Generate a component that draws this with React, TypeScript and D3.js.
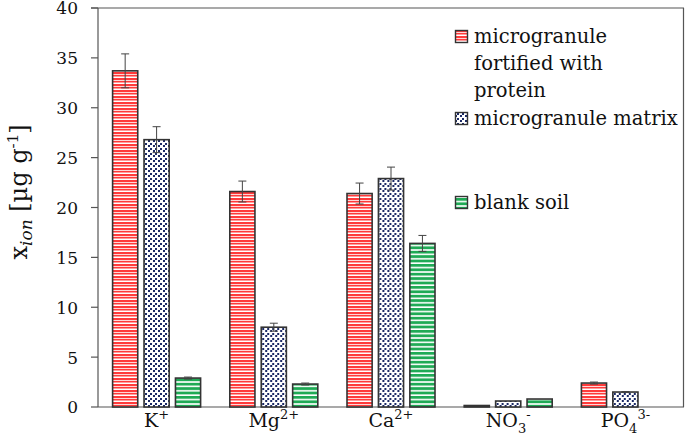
import React from "react";
import * as d3 from "d3";

const categories = ["K", "Mg", "Ca", "NO3", "PO4"];
const series = ["microgranule fortified with protein", "microgranule matrix", "blank soil"];
const protein = [33.7, 21.6, 21.4, 0.15, 2.4];
const proteinErr = [1.7, 1.05, 1.05, 0, 0.1];
const matrix = [26.8, 8.0, 22.9, 0.6, 1.5];
const matrixErr = [1.3, 0.4, 1.15, 0, 0.05];
const blank = [2.9, 2.3, 16.4, 0.8, 0];
const blankErr = [0.1, 0.1, 0.8, 0, 0];
const yTicks = [0, 5, 10, 15, 20, 25, 30, 35, 40];

const FONT = "DejaVu Serif";
const W = 685, H = 436;

export default function App() {
  const x0 = d3.scaleBand<string>().domain(categories).range([98, 684]);
  const x1 = d3.scaleBand<string>().domain(series).range([14.6, 102.6]).paddingInner(0.2);
  const y = d3.scaleLinear().domain([0, 40]).range([407, 8]);
  const fills = ["url(#pRed)", "url(#pBlue)", "url(#pGreen)"];
  const vals = [protein, matrix, blank];
  const errs = [proteinErr, matrixErr, blankErr];

  const labelFor = (c: string) => {
    switch (c) {
      case "K": return (<>K<tspan fontSize="13" dy="-8">+</tspan></>);
      case "Mg": return (<>Mg<tspan fontSize="13" dy="-8">2+</tspan></>);
      case "Ca": return (<>Ca<tspan fontSize="13" dy="-8">2+</tspan></>);
      case "NO3": return (<>NO<tspan fontSize="13" dy="6">3</tspan><tspan fontSize="13" dy="-14">-</tspan></>);
      default: return (<>PO<tspan fontSize="13" dy="6">4</tspan><tspan fontSize="13" dy="-14">3-</tspan></>);
    }
  };

  return (
    <svg width={W} height={H} style={{ position: "absolute", left: 0, top: 0, background: "#fff" }} fontFamily={FONT}>
      <defs>
        <pattern id="pRed" patternUnits="userSpaceOnUse" width="8" height="6">
          <rect width="8" height="6" fill="#ff3b3b" />
          <rect y="2" width="8" height="1" fill="#ffd6d6" />
          <rect y="4" width="8" height="1" fill="#ff9a9a" />
          <rect y="5" width="8" height="1" fill="#ffffff" />
        </pattern>
        <pattern id="pBlue" patternUnits="userSpaceOnUse" width="5" height="5">
          <rect width="5" height="5" fill="#ffffff" />
          <rect x="0" y="0" width="2" height="2" fill="#1c2a66" />
          <rect x="2" y="3" width="2" height="2" fill="#1c2a66" />
        </pattern>
        <pattern id="pGreen" patternUnits="userSpaceOnUse" width="8" height="4.4">
          <rect width="8" height="4.4" fill="#ffffff" />
          <rect y="0" width="8" height="2.8" fill="#1faa55" />
        </pattern>
      </defs>

      {/* frame */}
      <line x1={91} x2={684} y1={y(40)} y2={y(40)} stroke="#555" strokeWidth={1.2} />
      <line x1={683.5} x2={683.5} y1={y(40)} y2={y(0)} stroke="#555" strokeWidth={1.2} />
      <line x1={98} x2={98} y1={y(40)} y2={y(0)} stroke="#555" strokeWidth={1.2} />
      <line x1={98} x2={684} y1={y(0)} y2={y(0)} stroke="#555" strokeWidth={1.2} />

      {yTicks.map((t) => (
        <g key={t}>
          <line x1={91} x2={98} y1={y(t)} y2={y(t)} stroke="#555" strokeWidth={1.2} />
          <text x={78} y={y(t)} dy="0.38em" textAnchor="end" fontSize={17} fill="#111">{t}</text>
        </g>
      ))}

      {categories.map((c, ci) => (
        <g key={c} transform={`translate(${x0(c)},0)`}>
          {series.map((s, si) => {
            const v = vals[si][ci];
            if (v <= 0) return null;
            const bx = x1(s)!;
            const bw = x1.bandwidth();
            const e = errs[si][ci];
            const cx = bx + bw / 2;
            return (
              <g key={s}>
                <rect x={bx} y={y(v)} width={bw} height={y(0) - y(v)} fill={fills[si]} stroke="#333" strokeWidth={1.6} />
                {e > 0 && (
                  <g stroke="#444" strokeWidth={1}>
                    <line x1={cx} x2={cx} y1={y(v + e)} y2={y(v - e)} />
                    <line x1={cx - 4} x2={cx + 4} y1={y(v + e)} y2={y(v + e)} />
                    <line x1={cx - 4} x2={cx + 4} y1={y(v - e)} y2={y(v - e)} />
                  </g>
                )}
              </g>
            );
          })}
          <text x={x0.bandwidth() / 2} y={427} textAnchor="middle" fontSize={19} fill="#111">{labelFor(c)}</text>
        </g>
      ))}

      {/* y label */}
      <text transform="translate(27,192) rotate(-90)" textAnchor="middle" fontSize={24} fill="#111">
        x<tspan fontSize="17" fontStyle="italic" dy="5">ion</tspan><tspan dy="-5"> [µg g</tspan><tspan fontSize="15" dy="-9">-1</tspan><tspan dy="9">]</tspan>
      </text>

      {/* legend */}
      <g fontSize={19.5} fill="#111">
        <rect x={455.5} y={30.5} width={12} height={12} fill="url(#pRed)" stroke="#333" strokeWidth={1.4} />
        <text x={474} y={43}>microgranule</text>
        <text x={474} y={70}>fortified with</text>
        <text x={474} y={97}>protein</text>
        <rect x={455.5} y={112.5} width={12} height={12} fill="url(#pBlue)" stroke="#333" strokeWidth={1.4} />
        <text x={474} y={125}>microgranule matrix</text>
        <rect x={455.5} y={196.5} width={12} height={12} fill="url(#pGreen)" stroke="#333" strokeWidth={1.4} />
        <text x={474} y={209}>blank soil</text>
      </g>
    </svg>
  );
}
